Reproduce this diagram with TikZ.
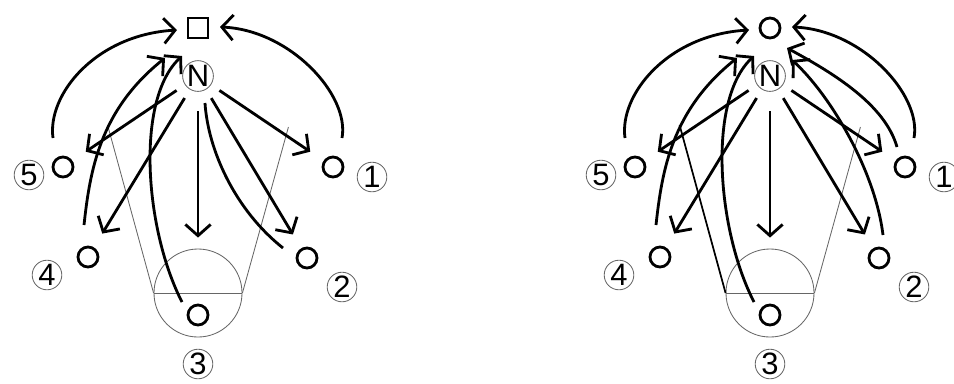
\documentclass[tikz,border=0pt]{standalone}
\usepackage{fontspec}
\setmainfont{Liberation Sans}
\usetikzlibrary{calc,arrows.meta}

\tikzset{
	player/.style={circle, draw, line width=2pt, minimum size=0.5cm, inner sep=0pt},
	goalbox/.style={rectangle, draw, line width=2pt, minimum size=0.5cm, inner sep=0pt},
	goalring/.style={player},
	numring/.style={circle, draw=black!60, line width=0.6pt, minimum size=0.74cm, inner sep=0pt, font=\fontsize{22}{22}\selectfont},
	guide/.style={draw=black!60, line width=0.6pt},
	move/.style={line width=2pt, -{Straight Barb[length=8pt,width=18pt]}},
	pass/.style={move, shorten <=0.25cm, shorten >=0.4cm}
}

\begin{document}
\begin{tikzpicture}[x=0.025cm,y=-0.025cm]
	\useasboundingbox (0,0) rectangle (954,383);
	\foreach \s/\dx/\goal in {a/0/goalbox,b/572/goalring}{
		% zone under the centre
		\node[circle, guide, minimum size=2.2cm, inner sep=0pt] (\s C) at (198+\dx,293) {};
		\draw[guide] (\s C.west) -- (\s C.east);
		\draw[guide] (\s C.west) -- ++(-46,-168);
		\draw[guide] (\s C.east) -- ++(46,-166);
		% players
		\node[\goal] (\s G) at (198+\dx,28) {};
		\node[numring] (\s N) at (198+\dx,76) {N};
		\node[player] (\s 1) at (333+\dx,167) {};
		\node[player] (\s 2) at (307+\dx,258) {};
		\node[player] (\s 3) at (198+\dx,315) {};
		\node[player] (\s 4) at (88+\dx,257) {};
		\node[player] (\s 5) at (63+\dx,167) {};
		\node[numring] (\s l1) at (372+\dx,177) {1};
		\node[numring] (\s l2) at (342+\dx,287) {2};
		\node[numring] (\s l3) at (198+\dx,364) {3};
		\node[numring] (\s l4) at (47+\dx,275) {4};
		\node[numring] (\s l5) at (29+\dx,175) {5};
		% passes from N
		\draw[pass] (\s N) -- (\s 1);
		\draw[pass] (\s N) -- (\s 2);
		\draw[pass, shorten <=0.48cm, shorten >=1.65cm] (\s N) -- (\s 3);
		\draw[pass] (\s N) -- (\s 4);
		\draw[pass] (\s N) -- (\s 5);
		% runs
		\draw[move] ($(\s 5)+(-10,-29)$) .. controls (47+\dx,95) and (95+\dx,35) .. ($(\s G)+(-21,2)$);
		\draw[move] ($(\s 1)+(9,-29)$) .. controls (350+\dx,95) and (290+\dx,30) .. ($(\s G)+(22,-1)$);
		\draw[move] ($(\s 4)+(-4,-32)$) .. controls (90+\dx,170) and (100+\dx,110) .. ($(\s N)+(-33,-18)$);
		\draw[move] ($(\s 3)+(-16,-13)$) .. controls (145+\dx,230) and (135+\dx,100) .. ($(\s N)+(-16,-20)$);
	}
	% left only
	\draw[line width=2pt] ($(aN)+(7,27)$) .. controls (208,150) and (235,210) .. ($(a2)+(-24,-10)$);
	% right only
	\draw[line width=1.2pt] (bC.west) -- ++(-46,-168);
	\draw[move] ($(b1)+(-8,-20)$) .. controls (885,105) and (835,74) .. ($(bN)+(17,-28)$);
	\draw[move] ($(b2)+(4,-23)$) .. controls (875,170) and (830,95) .. ($(bN)+(22,-16)$);
\end{tikzpicture}
\end{document}
